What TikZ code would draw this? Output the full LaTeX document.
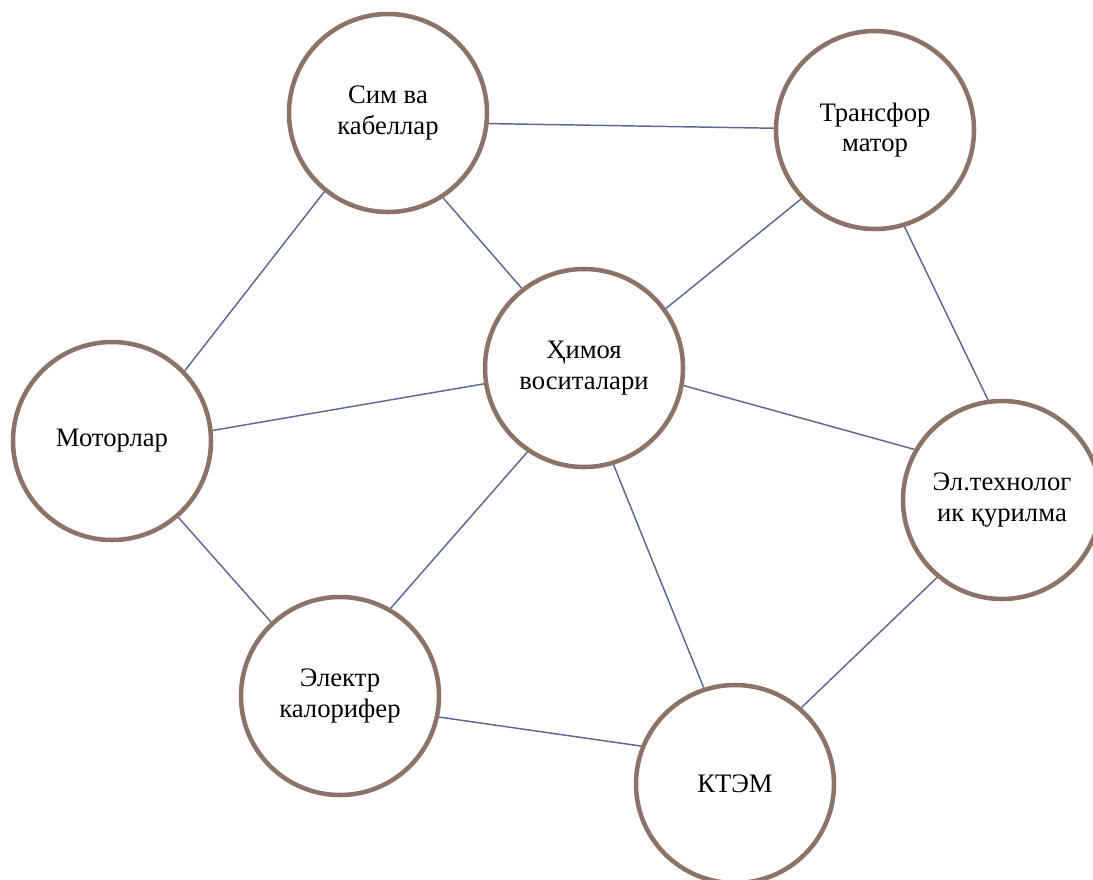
\documentclass[tikz,border=0pt]{standalone}
\usepackage{fontspec}
\setmainfont{Liberation Serif}
\usepackage{xcolor}

\definecolor{ringbrown}{RGB}{139,115,104}
\definecolor{linkblue}{RGB}{94,103,150}

\tikzset{
  topic/.style={draw=ringbrown, line width=3.4pt, circle, fill=white,
    minimum size=148.5pt, inner sep=0pt, align=center,
    font=\fontsize{20}{23}\selectfont},
  link/.style={draw=linkblue, line width=1.1pt}
}

\begin{document}
\begin{tikzpicture}[x=0.75pt, y=-0.75pt]
        \useasboundingbox (0,0) rectangle (1093,879);
        % circles
        \node (sim) [topic] at (388,113) {Сим ва\\кабеллар};
        \node (trans) [topic] at (875,130) {Трансфор\\матор};
        \node (himoya) [topic] at (584,368) {Ҳимоя\\воситалари};
        \node (motor) [topic] at (112,441) {Моторлар};
        \node (eltex) [topic] at (1002,500) {Эл.технолог\\ик қурилма};
        \node (kalor) [topic] at (340,696) {Электр\\калорифер};
        \node (ktem) [topic] at (735,784) {КТЭМ};
        % links
        \draw [link] (sim.-6) -- (trans.179);
        \draw [link] (sim.-57) -- (himoya.128);
        \draw [link] (motor.44) -- (sim.231);
        \draw [link] (motor.6) -- (himoya.189);
        \draw [link] (motor.-49) -- (kalor.133);
        \draw [link] (himoya.36) -- (trans.223);
        \draw [link] (trans.-73) -- (eltex.98);
        \draw [link] (himoya.-10) -- (eltex.150);
        \draw [link] (himoya.236) -- (kalor.60);
        \draw [link] (himoya.-73) -- (ktem.108);
        \draw [link] (kalor.-12) -- (ktem.158);
        \draw [link] (eltex.230) -- (ktem.49);
    \end{tikzpicture}
\end{document}
